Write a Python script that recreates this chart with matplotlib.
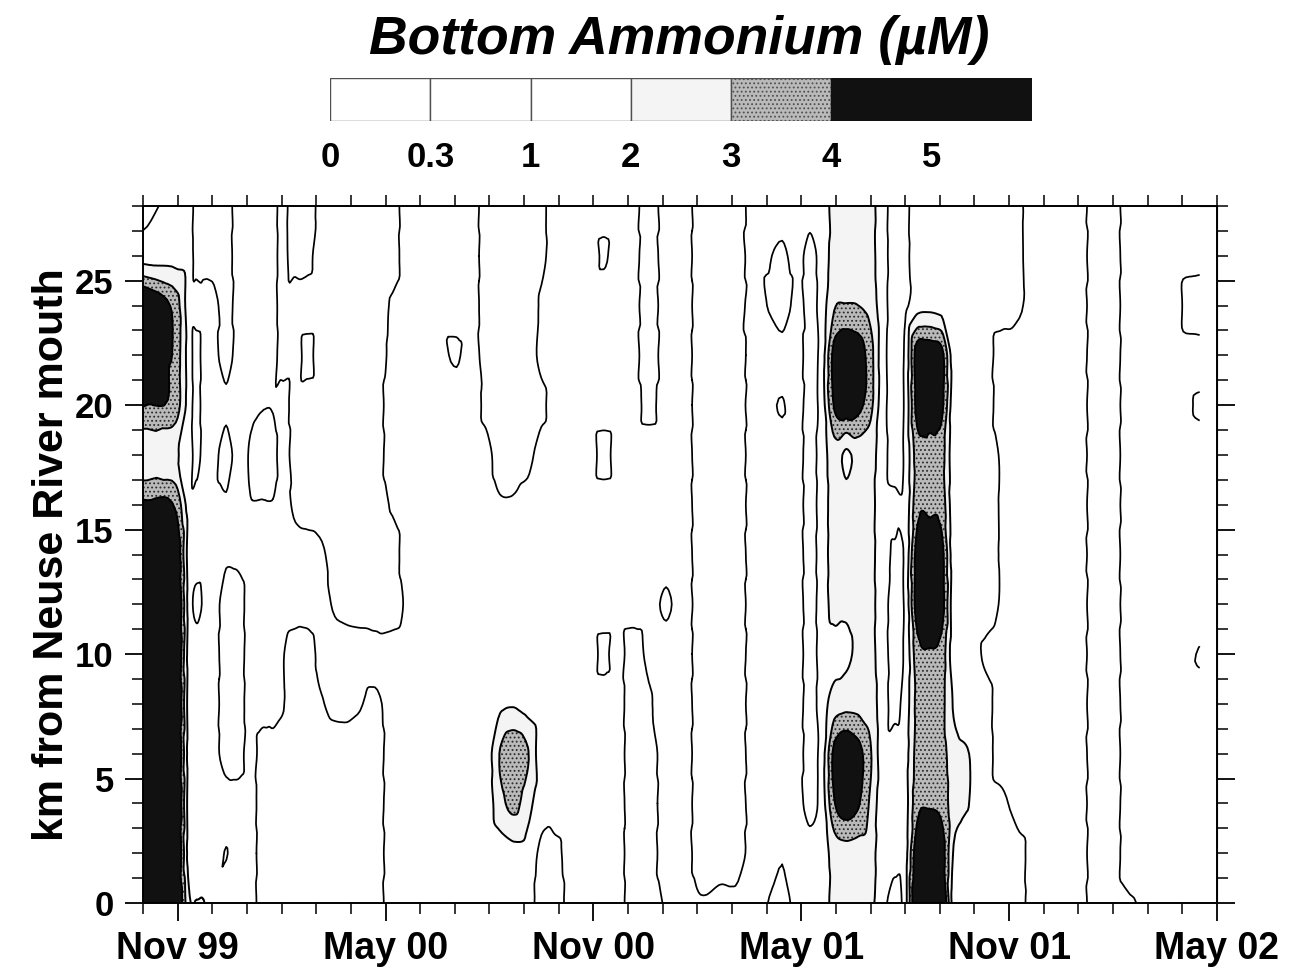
import matplotlib
matplotlib.use("Agg")
import matplotlib.pyplot as plt
from matplotlib.patches import Rectangle
from matplotlib.tri import Triangulation, UniformTriRefiner, CubicTriInterpolator
import numpy as np

plt.rcParams["font.family"] = ["Liberation Sans", "DejaVu Sans"]
plt.rcParams["hatch.color"] = "#2a2a2a"
plt.rcParams["hatch.linewidth"] = 0.8

# distance upstream from the river mouth (km)
KM = [0, 2, 4, 6, 8, 10, 12, 14, 16, 18, 20, 22, 24, 26, 28]

# sampling dates, months since 1 Oct 1999
MONTHS = [0.0, 0.95, 1.35, 1.55, 1.75, 2.0, 2.4, 2.75, 3.1, 3.45, 3.75, 4.0,
          4.4, 4.75, 5.1, 5.6, 6.2, 6.7, 7.2, 7.6, 8.4, 9.05, 9.5, 9.9, 10.3,
          10.7, 11.1, 11.5, 11.9, 12.4, 12.9, 13.3, 13.7, 14.1, 14.6, 15.1,
          15.6, 16.1, 16.7, 17.1, 17.7, 18.45, 18.9, 19.25, 19.6, 19.95, 20.3,
          20.65, 21.0, 21.35, 21.7, 22.0, 22.35, 22.7, 23.05, 23.4, 23.8, 24.3,
          24.8, 25.3, 25.8, 26.9, 27.5, 28.0, 28.5, 29.6, 30.5]

# bottom NH4 (uM), one row per sampling date, values at KM
NH4 = [
    [6.0, 6.0, 6.0, 6.0, 6.0, 6.0, 6.0, 6.0, 4.2, 2.1, 4.05, 6.0, 5.5, 1.6, 0.5],
    [5.5, 5.5, 5.5, 5.5, 5.5, 5.5, 5.5, 5.0, 3.8, 2.1, 3.5, 3.6, 3.5, 1.6, 1.4],
    [2.1, 1.4, 1.4, 1.4, 1.4, 1.4, 1.4, 1.4, 1.4, 1.4, 1.4, 1.4, 1.4, 1.4, 1.4],
    [2.05, 1.4, 1.4, 1.4, 1.4, 1.4, 0.8, 1.4, 1.4, 0.6, 0.6, 0.6, 1.4, 0.6, 0.6],
    [2.05, 1.4, 1.4, 1.4, 1.4, 1.4, 1.1, 1.4, 1.4, 1.4, 1.4, 1.4, 1.4, 0.6, 0.6],
    [1.4, 1.4, 1.4, 1.4, 1.4, 1.4, 1.4, 1.4, 1.4, 1.4, 1.4, 1.4, 1.4, 0.6, 0.6],
    [1.4, 0.98, 1.4, 0.6, 0.6, 0.6, 0.6, 1.1, 1.1, 0.6, 1.2, 0.6, 0.6, 0.6, 0.6],
    [1.4, 1.4, 1.4, 0.6, 0.6, 0.6, 0.6, 1.2, 1.4, 1.4, 1.4, 1.4, 1.4, 1.4, 1.4],
    [1.4, 1.4, 1.4, 1.4, 1.4, 1.4, 1.4, 1.4, 1.05, 0.9, 1.2, 1.4, 1.4, 1.4, 1.4],
    [0.6, 0.6, 0.6, 0.6, 1.4, 1.4, 1.4, 1.4, 1.05, 0.6, 1.05, 1.4, 1.4, 1.4, 1.4],
    [0.6, 0.6, 0.6, 0.6, 1.4, 1.4, 1.4, 1.4, 1.05, 0.6, 1.05, 1.4, 1.4, 1.4, 1.4],
    [0.6, 0.6, 0.6, 0.6, 1.1, 1.1, 1.4, 1.4, 1.4, 1.4, 1.4, 0.6, 0.6, 0.6, 0.6],
    [0.6, 0.6, 0.6, 0.6, 0.6, 0.6, 1.4, 1.4, 0.8, 0.6, 0.6, 0.6, 0.6, 0.1, 0.1],
    [0.6, 0.6, 0.6, 0.6, 0.6, 0.6, 1.4, 1.4, 0.6, 0.6, 0.6, 0.1, 0.6, 0.1, 0.1],
    [0.6, 0.6, 0.6, 0.6, 0.9, 1.2, 1.4, 1.2, 0.6, 0.6, 0.6, 0.6, 0.6, 0.6, 0.4],
    [0.6, 0.6, 0.6, 0.6, 1.2, 1.4, 0.8, 0.6, 0.6, 0.6, 0.6, 0.6, 0.6, 0.6, 0.6],
    [0.6, 0.6, 0.6, 0.6, 1.1, 1.4, 0.6, 0.6, 0.6, 0.6, 0.6, 0.6, 0.6, 0.6, 0.6],
    [0.6, 0.6, 0.6, 0.6, 0.8, 1.3, 0.6, 0.6, 0.6, 0.6, 0.6, 0.6, 0.6, 0.6, 0.6],
    [1.4, 1.4, 1.4, 1.4, 1.4, 1.4, 0.6, 0.6, 1.1, 1.4, 1.4, 1.2, 1.1, 0.6, 0.6],
    [1.4, 1.4, 1.4, 1.4, 1.4, 1.4, 1.1, 1.4, 1.4, 1.4, 1.4, 1.4, 1.4, 1.4, 1.4],
    [1.4, 1.4, 1.4, 1.4, 1.4, 1.4, 1.4, 1.4, 1.4, 1.4, 1.4, 1.4, 1.4, 1.4, 1.4],
    [1.4, 1.4, 1.4, 1.4, 1.4, 1.4, 1.4, 1.4, 1.4, 1.4, 1.4, 0.9, 1.4, 1.4, 1.4],
    [1.4, 1.4, 1.4, 1.4, 1.4, 1.4, 1.4, 1.4, 1.4, 1.4, 1.4, 1.4, 1.4, 1.4, 1.4],
    [1.4, 1.4, 1.4, 1.4, 1.4, 1.4, 1.4, 1.4, 1.4, 1.3, 0.8, 0.6, 0.6, 0.6, 0.6],
    [1.4, 1.5, 2.6, 3.05, 1.8, 1.4, 1.4, 1.4, 1.1, 0.6, 0.6, 0.6, 0.6, 0.6, 0.6],
    [1.4, 1.7, 3.3, 3.8, 1.9, 1.4, 1.4, 1.4, 1.1, 0.6, 0.6, 0.6, 0.6, 0.6, 0.6],
    [1.4, 1.6, 2.4, 3.1, 1.6, 1.4, 1.4, 1.4, 1.3, 0.7, 0.6, 0.6, 0.6, 0.6, 0.6],
    [0.6, 0.8, 1.4, 1.4, 1.4, 1.4, 1.4, 1.4, 1.4, 1.4, 0.8, 1.2, 1.1, 0.8, 0.8],
    [0.6, 0.8, 1.4, 1.4, 1.4, 1.4, 1.4, 1.4, 1.4, 1.4, 1.4, 1.4, 1.4, 1.4, 1.4],
    [1.4, 1.4, 1.4, 1.4, 1.4, 1.4, 1.4, 1.4, 1.4, 1.4, 1.4, 1.4, 1.4, 1.4, 1.4],
    [1.4, 1.4, 1.4, 1.4, 1.4, 1.4, 1.4, 1.4, 1.4, 1.4, 1.4, 1.4, 1.4, 1.4, 1.4],
    [1.4, 1.4, 1.4, 1.4, 1.4, 0.8, 1.4, 1.4, 1.4, 0.7, 1.4, 1.4, 1.4, 0.9, 1.4],
    [1.4, 1.4, 1.4, 1.4, 1.4, 1.4, 1.4, 1.4, 1.4, 1.4, 1.4, 1.4, 1.4, 1.4, 1.4],
    [0.6, 0.6, 0.6, 0.6, 0.6, 0.6, 1.4, 1.4, 1.4, 1.4, 1.4, 1.4, 1.4, 1.4, 1.4],
    [0.6, 0.6, 0.6, 0.6, 0.9, 1.2, 1.4, 1.4, 1.4, 1.4, 0.8, 0.6, 0.6, 0.6, 0.6],
    [1.1, 1.4, 1.4, 1.4, 1.4, 1.4, 0.85, 1.4, 1.4, 1.4, 1.4, 1.4, 1.4, 1.4, 1.4],
    [1.4, 1.4, 1.4, 1.4, 1.4, 1.4, 1.4, 1.4, 1.4, 1.4, 1.4, 1.4, 1.4, 1.4, 1.4],
    [1.1, 0.6, 0.6, 0.6, 0.6, 0.6, 0.6, 0.6, 0.6, 0.6, 0.6, 0.6, 0.6, 0.6, 0.6],
    [1.3, 0.6, 0.6, 0.6, 0.6, 0.6, 0.6, 0.6, 0.6, 0.6, 0.6, 0.6, 0.6, 0.6, 0.6],
    [1.2, 0.6, 0.6, 0.6, 0.6, 0.6, 0.6, 0.6, 0.6, 0.6, 0.6, 0.6, 0.6, 0.6, 0.6],
    [1.4, 1.4, 1.4, 1.4, 1.4, 1.4, 1.4, 1.4, 1.4, 1.4, 1.4, 1.4, 1.4, 1.4, 1.4],
    [0.6, 1.05, 1.4, 1.4, 1.4, 1.4, 1.4, 1.4, 1.4, 1.4, 0.95, 1.4, 0.4, 0.8, 1.4],
    [1.4, 1.4, 1.4, 1.4, 1.4, 1.4, 1.4, 1.4, 1.4, 1.4, 1.4, 1.4, 1.4, 1.4, 1.4],
    [1.4, 1.4, 0.6, 0.6, 0.6, 0.6, 0.6, 0.6, 0.6, 0.6, 0.6, 0.6, 0.6, 0.6, 1.4],
    [1.5, 1.5, 1.5, 1.5, 1.5, 1.4, 1.5, 1.5, 1.5, 1.5, 1.5, 1.5, 1.5, 1.5, 1.5],
    [2.3, 2.4, 3.9, 4.3, 2.5, 1.6, 2.3, 2.4, 2.4, 2.5, 4.1, 4.4, 2.9, 2.3, 2.3],
    [2.3, 2.6, 4.6, 5.0, 2.7, 1.8, 2.2, 2.3, 2.5, 1.8, 4.6, 5.0, 3.05, 2.4, 2.3],
    [2.3, 2.5, 4.1, 4.4, 2.7, 2.2, 2.4, 2.5, 2.4, 2.4, 4.3, 4.6, 3.0, 2.4, 2.3],
    [2.2, 2.4, 2.8, 3.1, 2.6, 2.3, 2.3, 2.3, 2.3, 2.4, 3.3, 3.4, 2.6, 2.3, 2.3],
    [1.4, 1.4, 1.4, 1.4, 1.4, 1.4, 1.4, 1.4, 1.4, 1.4, 1.4, 1.4, 1.4, 1.4, 1.4],
    [0.5, 1.4, 1.4, 1.4, 0.8, 0.7, 0.7, 0.9, 1.2, 0.6, 0.6, 0.6, 0.6, 0.6, 0.6],
    [1.6, 1.6, 1.6, 1.6, 1.4, 1.2, 1.2, 1.2, 1.3, 1.2, 1.2, 1.2, 0.8, 0.8, 0.8],
    [5.5, 4.8, 3.7, 3.4, 3.3, 3.6, 4.6, 4.5, 3.7, 3.5, 4.4, 4.6, 1.6, 1.4, 1.4],
    [6.0, 5.2, 3.9, 3.6, 3.5, 3.9, 4.9, 4.7, 3.8, 3.6, 4.6, 4.8, 1.7, 1.4, 1.4],
    [5.5, 4.6, 3.7, 3.4, 3.3, 3.6, 4.5, 4.4, 3.6, 3.4, 4.3, 4.4, 1.6, 1.4, 1.4],
    [1.5, 1.9, 2.4, 2.4, 1.9, 1.4, 1.4, 1.4, 1.4, 1.4, 1.4, 1.4, 1.4, 1.4, 1.4],
    [1.4, 1.4, 2.05, 2.05, 1.4, 1.4, 1.4, 1.4, 1.4, 1.4, 1.4, 1.4, 1.4, 1.4, 1.4],
    [1.4, 1.4, 1.4, 1.4, 1.3, 0.9, 1.4, 1.4, 1.4, 1.4, 1.4, 1.4, 1.4, 1.4, 1.4],
    [1.4, 1.4, 1.2, 0.6, 0.6, 0.6, 0.9, 0.9, 0.9, 0.9, 0.6, 0.6, 1.4, 1.4, 1.4],
    [1.2, 1.2, 0.6, 0.6, 0.6, 0.6, 0.6, 0.6, 0.6, 0.6, 0.6, 0.6, 1.1, 1.1, 1.1],
    [0.6, 0.6, 0.6, 0.6, 0.6, 0.6, 0.6, 0.6, 0.6, 0.6, 0.6, 0.6, 0.6, 0.6, 0.6],
    [0.6, 0.6, 0.6, 0.6, 0.6, 0.6, 0.6, 0.6, 0.6, 0.6, 0.6, 0.6, 0.6, 0.6, 0.6],
    [0.1, 0.1, 0.1, 0.1, 0.1, 0.1, 0.1, 0.1, 0.1, 0.1, 0.1, 0.1, 0.1, 0.1, 0.1],
    [0.1, 0.1, 0.1, 0.1, 0.1, 0.1, 0.1, 0.1, 0.1, 0.1, 0.1, 0.1, 0.1, 0.1, 0.1],
    [0.25, 0.6, 0.6, 0.6, 0.6, 0.6, 0.6, 0.6, 0.6, 0.6, 0.6, 0.6, 0.6, 0.6, 0.6],
    [0.6, 0.6, 0.6, 0.6, 0.6, 0.6, 0.6, 0.6, 0.6, 0.6, 0.6, 0.6, 0.6, 0.6, 0.6],
    [0.6, 0.6, 0.6, 0.6, 0.6, 1.05, 0.6, 0.6, 0.6, 0.6, 1.1, 0.6, 1.6, 0.6, 0.6],
]

LEVELS = [-5, 0.3, 1, 2, 3, 4, 5, 10]
LEVEL_LABELS = ["0", "0.3", "1", "2", "3", "4", "5"]
FILL_COLORS = ["white", "white", "white", "#f4f4f4", "#bababa", "#111111", "#111111"]
FILL_HATCH = [None, None, None, None, "....", None, None]
LINE_LEVELS = [0.3, 1, 2, 3, 4]

DATE_TICKS = [1, 7, 13, 19, 25, 31]
DATE_LABELS = ["Nov 99", "May 00", "Nov 00", "May 01", "Nov 01", "May 02"]
KM_TICKS = [0, 5, 10, 15, 20, 25]

fig = plt.figure(figsize=(12.89, 9.68), dpi=100)

# ── contour panel ─────────────────────────────────────────────
ax = fig.add_axes([143 / 1289, 65 / 968, 1074 / 1289, 697 / 968])
mx, my = np.meshgrid(MONTHS, KM)
z = np.array(NH4).T.ravel()
tri = Triangulation(mx.ravel(), my.ravel())
refiner = UniformTriRefiner(tri)
interp = CubicTriInterpolator(tri, z, kind="geom")
fine_tri, fine_z = refiner.refine_field(z, triinterpolator=interp, subdiv=3)
# keep the smooth surface inside the range of each parent triangle (no overshoot)
_, parent = refiner.refine_triangulation(return_tri_index=True, subdiv=3)
corner_z = z[tri.triangles[parent]]
fine_z = np.clip(fine_z, corner_z.min(axis=1), corner_z.max(axis=1))

ax.tricontourf(fine_tri, fine_z, levels=LEVELS, colors=FILL_COLORS, hatches=FILL_HATCH)
ax.tricontour(fine_tri, fine_z, levels=LINE_LEVELS, colors="black",
              linewidths=[1.25, 1.25, 1.4, 1.4, 1.4])
ax.set_xlim(0, 31)
ax.set_ylim(0, 28)

for side in ax.spines.values():
    side.set_linewidth(1.4)

ax.set_xticks(DATE_TICKS)
ax.set_xticklabels(DATE_LABELS, fontsize=27, fontweight="bold")
ax.set_xticks(range(0, 32), minor=True)
ax.set_yticks(KM_TICKS)
ax.set_yticklabels([str(k) for k in KM_TICKS], fontsize=25, fontweight="bold")
ax.set_yticks(range(0, 29), minor=True)
ax.tick_params(which="major", length=13, width=1.3, direction="out")
ax.tick_params(which="minor", length=8, width=1.1, direction="out")
ax.tick_params(axis="x", which="major", pad=7)
ax.tick_params(axis="y", which="major", pad=8)

top = ax.secondary_xaxis("top")
top.set_xticks(range(0, 32))
top.set_xticklabels([])
top.tick_params(length=8, width=1.1, direction="out")

right = ax.secondary_yaxis("right")
right.set_yticks(KM_TICKS)
right.set_yticklabels([])
right.set_yticks(range(0, 29), minor=True)
right.tick_params(which="major", length=13, width=1.3, direction="out")
right.tick_params(which="minor", length=8, width=1.1, direction="out")

fig.text(52 / 1289, 1 - 555 / 968, "km from Neuse River mouth", rotation=90,
         ha="center", va="center", fontsize=31, fontweight="bold")

# ── legend bar ────────────────────────────────────────────────
cax = fig.add_axes([330 / 1289, 1 - 121 / 968, 702 / 1289, 43 / 968])
for i, (c, h) in enumerate(zip(FILL_COLORS, FILL_HATCH)):
    edge = c if c == "#111111" else "#505050"
    cax.add_patch(Rectangle((i, 0), 1, 1, facecolor=c, hatch=h,
                            edgecolor=edge, linewidth=1.0))
for i, lab in enumerate(LEVEL_LABELS):
    cax.text(i, -0.86, lab, ha="center", va="center", fontsize=25, fontweight="bold")
cax.set_xlim(0, 7)
cax.set_ylim(0, 1)
cax.axis("off")

fig.text(679 / 1289, 1 - 40 / 968, "Bottom Ammonium (µM)", ha="center", va="center",
         fontsize=38.5, fontweight="bold", fontstyle="italic")

fig.savefig("out.png", dpi=100)
